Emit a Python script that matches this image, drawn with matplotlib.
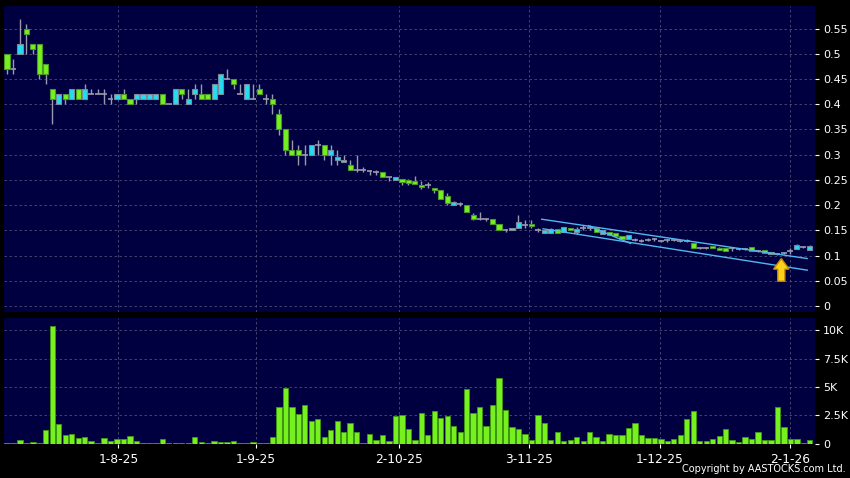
import matplotlib
matplotlib.use("Agg")
import matplotlib.pyplot as plt
from matplotlib.patches import FancyArrow

# daily OHLC (bar index 0..124)
opens = [0.50, 0.47, 0.50, 0.55, 0.52, 0.52, 0.48, 0.43, 0.40, 0.42,
         0.41, 0.43, 0.41, 0.42, 0.42, 0.42, 0.41, 0.41, 0.42, 0.41,
         0.41, 0.41, 0.41, 0.41, 0.42, 0.40, 0.40, 0.43, 0.40, 0.42,
         0.42, 0.42, 0.41, 0.42, 0.45, 0.45, 0.42, 0.41, 0.41, 0.43,
         0.41, 0.41, 0.38, 0.35, 0.31, 0.31, 0.30, 0.30, 0.32, 0.32,
         0.30, 0.29, 0.285, 0.28, 0.27, 0.27, 0.267, 0.265, 0.265, 0.255,
         0.25, 0.252, 0.25, 0.248, 0.24, 0.24, 0.234, 0.229, 0.219, 0.201,
         0.203, 0.201, 0.18, 0.173, 0.172, 0.172, 0.162, 0.15, 0.15, 0.155,
         0.16, 0.163, 0.151, 0.145, 0.145, 0.153, 0.146, 0.154, 0.146, 0.154,
         0.155, 0.154, 0.143, 0.146, 0.144, 0.139, 0.133, 0.131, 0.129, 0.131,
         0.132, 0.129, 0.130, 0.130, 0.128, 0.129, 0.124, 0.115, 0.115, 0.119,
         0.115, 0.114, 0.114, 0.113, 0.113, 0.117, 0.109, 0.111, 0.104, 0.104,
         0.105, 0.109, 0.113, 0.116, 0.110]
closes = [0.47, 0.47, 0.52, 0.54, 0.51, 0.46, 0.46, 0.41, 0.42, 0.41,
          0.43, 0.41, 0.43, 0.42, 0.42, 0.42, 0.41, 0.42, 0.41, 0.40,
          0.42, 0.42, 0.42, 0.42, 0.40, 0.40, 0.43, 0.42, 0.41, 0.43,
          0.41, 0.41, 0.44, 0.46, 0.45, 0.44, 0.42, 0.44, 0.41, 0.42,
          0.41, 0.40, 0.35, 0.31, 0.30, 0.30, 0.30, 0.32, 0.32, 0.30,
          0.31, 0.295, 0.29, 0.27, 0.27, 0.27, 0.267, 0.265, 0.255, 0.255,
          0.255, 0.246, 0.243, 0.241, 0.235, 0.24, 0.229, 0.212, 0.204, 0.206,
          0.203, 0.187, 0.173, 0.173, 0.172, 0.162, 0.15, 0.15, 0.154, 0.166,
          0.16, 0.159, 0.151, 0.150, 0.153, 0.144, 0.156, 0.150, 0.153, 0.154,
          0.155, 0.147, 0.150, 0.140, 0.139, 0.133, 0.140, 0.131, 0.129, 0.131,
          0.132, 0.129, 0.130, 0.130, 0.128, 0.129, 0.114, 0.115, 0.115, 0.115,
          0.111, 0.109, 0.114, 0.113, 0.113, 0.109, 0.109, 0.106, 0.107, 0.104,
          0.105, 0.109, 0.120, 0.116, 0.119]
highs = [0.50, 0.49, 0.57, 0.56, 0.52, 0.52, 0.48, 0.43, 0.42, 0.42,
         0.43, 0.43, 0.44, 0.43, 0.43, 0.43, 0.42, 0.42, 0.43, 0.41,
         0.42, 0.42, 0.42, 0.42, 0.42, 0.40, 0.43, 0.43, 0.43, 0.44,
         0.44, 0.42, 0.44, 0.46, 0.47, 0.45, 0.44, 0.44, 0.44, 0.44,
         0.42, 0.42, 0.39, 0.35, 0.33, 0.32, 0.32, 0.32, 0.33, 0.32,
         0.32, 0.31, 0.30, 0.29, 0.30, 0.275, 0.27, 0.27, 0.265, 0.255,
         0.255, 0.252, 0.252, 0.257, 0.248, 0.245, 0.234, 0.229, 0.224, 0.208,
         0.206, 0.201, 0.184, 0.186, 0.174, 0.172, 0.162, 0.153, 0.154, 0.18,
         0.171, 0.171, 0.155, 0.150, 0.154, 0.153, 0.156, 0.155, 0.157, 0.16,
         0.16, 0.155, 0.150, 0.146, 0.144, 0.139, 0.140, 0.135, 0.132, 0.134,
         0.135, 0.131, 0.132, 0.132, 0.130, 0.132, 0.124, 0.117, 0.117, 0.119,
         0.117, 0.114, 0.117, 0.115, 0.115, 0.117, 0.111, 0.111, 0.107, 0.106,
         0.107, 0.114, 0.122, 0.118, 0.120]
lows = [0.46, 0.46, 0.50, 0.50, 0.50, 0.45, 0.44, 0.36, 0.40, 0.40,
        0.41, 0.41, 0.41, 0.42, 0.42, 0.40, 0.40, 0.41, 0.41, 0.40,
        0.40, 0.41, 0.41, 0.41, 0.40, 0.40, 0.40, 0.41, 0.40, 0.41,
        0.41, 0.41, 0.41, 0.42, 0.45, 0.43, 0.42, 0.41, 0.41, 0.42,
        0.40, 0.38, 0.34, 0.30, 0.30, 0.28, 0.28, 0.30, 0.30, 0.29,
        0.28, 0.28, 0.285, 0.27, 0.265, 0.265, 0.26, 0.26, 0.255, 0.247,
        0.25, 0.24, 0.24, 0.241, 0.232, 0.234, 0.225, 0.212, 0.20, 0.20,
        0.198, 0.187, 0.171, 0.171, 0.169, 0.162, 0.15, 0.147, 0.15, 0.155,
        0.154, 0.154, 0.147, 0.145, 0.144, 0.144, 0.146, 0.150, 0.143, 0.15,
        0.15, 0.147, 0.143, 0.140, 0.139, 0.133, 0.133, 0.128, 0.127, 0.128,
        0.129, 0.127, 0.127, 0.128, 0.126, 0.127, 0.114, 0.113, 0.113, 0.115,
        0.111, 0.109, 0.109, 0.110, 0.110, 0.109, 0.107, 0.106, 0.104, 0.102,
        0.103, 0.104, 0.113, 0.114, 0.110]
volumes_k = [0.03, 0.1, 0.3, 0.05, 0.15, 0.1, 1.23, 10.4, 1.7, 0.73,
             0.82, 0.47, 0.56, 0.2, 0.06, 0.47, 0.23, 0.38, 0.38, 0.64,
             0.2, 0.02, 0.02, 0.05, 0.38, 0.08, 0.08, 0.08, 0.02, 0.56,
             0.12, 0.08, 0.26, 0.12, 0.15, 0.26, 0.03, 0.08, 0.18, 0.1,
             0.1, 0.56, 3.19, 4.94, 3.25, 2.63, 3.42, 1.96, 2.19, 0.58,
             1.23, 2.0, 1.0, 1.84, 1.05, 0.09, 0.82, 0.32, 0.79, 0.26,
             2.4, 2.57, 1.32, 0.29, 2.69, 0.73, 2.9, 2.26, 2.47, 1.53,
             1.06, 4.85, 2.68, 3.24, 1.56, 3.38, 5.82, 2.94, 1.47, 1.26,
             0.82, 0.35, 2.5, 1.79, 0.35, 1.0, 0.2, 0.32, 0.58, 0.26,
             1.0, 0.56, 0.26, 0.88, 0.76, 0.79, 1.35, 1.82, 0.73, 0.47,
             0.47, 0.44, 0.26, 0.44, 0.76, 2.17, 2.85, 0.2, 0.2, 0.38,
             0.67, 1.32, 0.29, 0.12, 0.56, 0.38, 1.06, 0.35, 0.35, 3.2,
             1.44, 0.41, 0.38, 0.09, 0.29]

date_labels = ["1-8-25", "1-9-25", "2-10-25", "3-11-25", "1-12-25", "2-1-26"]
date_pos = [17.2, 38.4, 60.6, 80.7, 100.8, 121.0]

price_ticks = [0, 0.05, 0.1, 0.15, 0.2, 0.25, 0.3, 0.35, 0.4, 0.45, 0.5, 0.55]
vol_ticks = [0, 2.5, 5, 7.5, 10]
vol_tick_labels = ["0", "2.5K", "5K", "7.5K", "10K"]

# drawn trendlines: (bar index, price) endpoints
upper_line = [(82.6, 0.172), (123.6, 0.094)]
lower_line = [(82.8, 0.153), (123.6, 0.071)]
cross_line = [(89.8, 0.159), (96.3, 0.124)]

BG = "#000040"
GREEN = "#77f020"
CYAN = "#25dcf0"
WICK = "#9a9aae"
GRID = "#4e4e78"
LINE = "#4fb8f0"

fig = plt.figure(figsize=(8.5, 4.78), dpi=100)
fig.patch.set_facecolor("black")
ax1 = fig.add_axes([0.0047, 0.3473, 0.9541, 0.6408])
ax2 = fig.add_axes([0.0047, 0.0701, 0.9541, 0.264])

n = len(opens)
xs = list(range(n))

# candles
ax1.vlines(xs, lows, highs, color=WICK, linewidth=1, zorder=2)
for i in xs:
    o, c = opens[i], closes[i]
    if abs(o - c) < 1e-9:
        ax1.hlines(c, i - 0.45, i + 0.45, color=WICK, linewidth=1.2, zorder=3)
    elif c > o:
        ax1.bar(i, c - o, bottom=o, width=0.8, color=CYAN, edgecolor="#7a8a9a",
                linewidth=0.8, zorder=3)
    else:
        ax1.bar(i, o - c, bottom=c, width=0.8, color=GREEN, edgecolor="#4a9a2a",
                linewidth=0.8, zorder=3)

for line in (upper_line, lower_line, cross_line):
    ax1.plot([p[0] for p in line], [p[1] for p in line], color=LINE,
             linewidth=1.0, zorder=4)

arrow = FancyArrow(119.6, 0.049, 0, 0.045, width=1.1, head_width=2.4,
                   head_length=0.021, length_includes_head=True,
                   facecolor="#ffd21a", edgecolor="#c88a00", linewidth=1, zorder=5)
ax1.add_patch(arrow)

# volume
ax2.bar(xs, volumes_k, width=0.82, color=GREEN, edgecolor="#3f9a10",
        linewidth=0.6, zorder=3)

for ax in (ax1, ax2):
    ax.set_facecolor(BG)
    ax.set_xlim(-0.46, 124.8)
    for s in ax.spines.values():
        s.set_visible(False)
    ax.yaxis.tick_right()
    ax.tick_params(axis="y", colors="white", labelsize=8, length=3,
                   width=0.8, pad=3)
    ax.set_xticks(date_pos)
    ax.grid(True, color=GRID, linestyle=(0, (3, 3)), linewidth=0.6, zorder=0)
    ax.set_axisbelow(True)

ax1.set_ylim(-0.012, 0.5956)
ax1.set_yticks(price_ticks)
ax1.set_yticklabels([f"{t:g}" for t in price_ticks])
ax1.tick_params(axis="x", length=0, labelbottom=False)

ax2.set_ylim(-0.07, 11.04)
ax2.set_yticks(vol_ticks)
ax2.set_yticklabels(vol_tick_labels)
ax2.set_xticklabels(date_labels)
ax2.tick_params(axis="x", colors="white", labelsize=8.8, length=3,
                width=0.8, pad=3)

fig.text(0.995, 0.008, "Copyright by AASTOCKS.com Ltd.", ha="right",
         va="bottom", color="white", fontsize=7)

fig.savefig("out.png", dpi=100, facecolor=fig.get_facecolor())
